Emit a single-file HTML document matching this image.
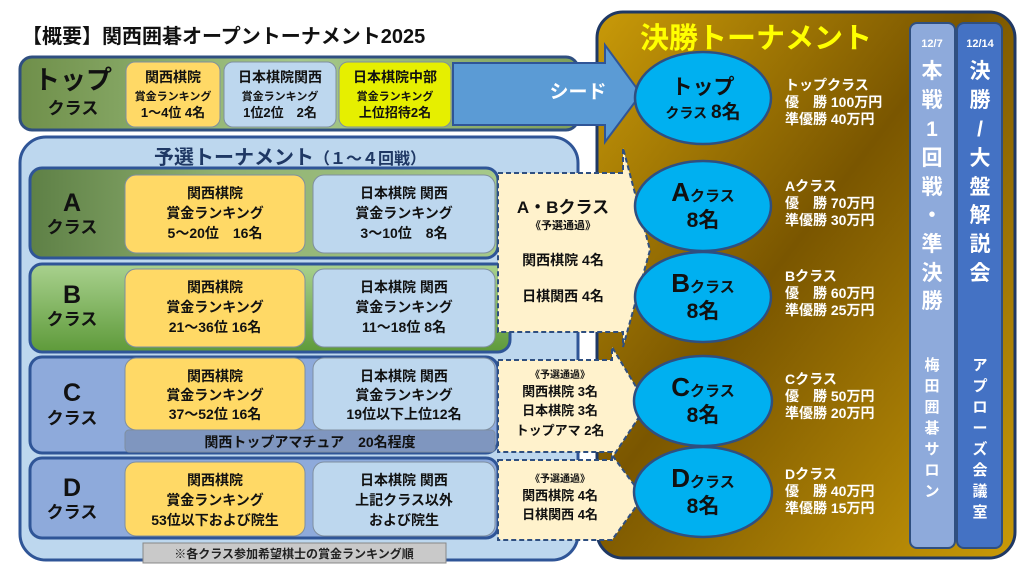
<!DOCTYPE html>
<html><head><meta charset="utf-8"><style>
body{margin:0;background:#fff;}
svg{display:block;font-family:"Liberation Sans","Noto Sans CJK JP",sans-serif;font-weight:bold;}
</style></head><body>
<svg width="1024" height="569" viewBox="0 0 1024 569" xmlns="http://www.w3.org/2000/svg">
<defs>
<linearGradient id="gTop" x1="0" y1="0" x2="1" y2="0"><stop offset="0" stop-color="#6f8f4a"/><stop offset="0.5" stop-color="#a6c98a"/><stop offset="1" stop-color="#7f9f5a"/></linearGradient>
<linearGradient id="gA" x1="0" y1="0" x2="1" y2="0"><stop offset="0" stop-color="#5e8046"/><stop offset="0.4" stop-color="#8fb070"/><stop offset="1" stop-color="#a6c98a"/></linearGradient>
<linearGradient id="gB" x1="0" y1="0" x2="0" y2="1"><stop offset="0" stop-color="#a9d18e"/><stop offset="1" stop-color="#5e9a3a"/></linearGradient>
<linearGradient id="gF" x1="0" y1="0" x2="1" y2="1"><stop offset="0" stop-color="#c99a08"/><stop offset="0.45" stop-color="#7a5600"/><stop offset="1" stop-color="#c99a08"/></linearGradient>
</defs>
<text x="22" y="43" font-size="20" fill="#111">【概要】関西囲碁オープントーナメント2025</text>

<rect x="597" y="12" width="418" height="546" rx="26" fill="url(#gF)" stroke="#1f3864" stroke-width="3"/>
<text x="640" y="48" font-size="29" fill="#ffff00">決勝トーナメント</text>

<rect x="20" y="57" width="558" height="73" rx="12" fill="url(#gTop)" stroke="#2f4f80" stroke-width="3"/>
<text x="73" y="89" font-size="26" text-anchor="middle" fill="#111">トップ</text>
<text x="73" y="114" font-size="17" text-anchor="middle" fill="#111">クラス</text>
<rect x="126" y="62" width="94" height="65" rx="9" fill="#ffd966" stroke="#7f8fa0"/>
<rect x="224" y="62" width="112" height="65" rx="9" fill="#bdd7ee" stroke="#7f8fa0"/>
<rect x="339" y="62" width="112" height="65" rx="9" fill="#e6ef00" stroke="#7f8fa0"/>
<g font-size="13" text-anchor="middle" fill="#111">
<text x="173" y="82" font-size="14">関西棋院</text><text x="173" y="100" font-size="11">賞金ランキング</text><text x="173" y="117">1～4位  4名</text>
<text x="280" y="82" font-size="14">日本棋院関西</text><text x="280" y="100" font-size="11">賞金ランキング</text><text x="280" y="117">1位2位　2名</text>
<text x="395" y="82" font-size="14">日本棋院中部</text><text x="395" y="100" font-size="11">賞金ランキング</text><text x="395" y="117">上位招待2名</text>
</g>
<polygon points="453,63 605,63 605,45 641,94 605,142 605,125 453,125" fill="#5b9bd5" stroke="#2f5597" stroke-width="2"/>
<text x="578" y="98" font-size="19" text-anchor="middle" fill="#fff">シード</text>

<rect x="20" y="137" width="558" height="423" rx="26" fill="#bdd7ee" stroke="#2f5597" stroke-width="3"/>
<text x="290" y="164" font-size="20" text-anchor="middle" fill="#1f3864">予選トーナメント<tspan font-size="16">（１～４回戦）</tspan></text>

<rect x="30" y="168" width="468" height="90" rx="12" fill="url(#gA)" stroke="#2f5597" stroke-width="3"/>
<rect x="30" y="264" width="480" height="88" rx="12" fill="url(#gB)" stroke="#2f5597" stroke-width="3"/>
<rect x="30" y="357" width="468" height="96" rx="12" fill="#8eaadb" stroke="#2f5597" stroke-width="3"/>
<rect x="30" y="458" width="468" height="80" rx="12" fill="#8eaadb" stroke="#2f5597" stroke-width="3"/>
<g text-anchor="middle" fill="#111">
<text x="72" y="211" font-size="25">A</text><text x="72" y="233" font-size="17">クラス</text>
<text x="72" y="303" font-size="25">B</text><text x="72" y="325" font-size="17">クラス</text>
<text x="72" y="401" font-size="25">C</text><text x="72" y="424" font-size="17">クラス</text>
<text x="72" y="496" font-size="25">D</text><text x="72" y="518" font-size="17">クラス</text>
</g>
<g stroke="#7f8fa0" stroke-width="1">
<rect x="125" y="175" width="180" height="78" rx="11" fill="#ffd966"/><rect x="313" y="175" width="182" height="78" rx="11" fill="#bdd7ee"/>
<rect x="125" y="269" width="180" height="78" rx="11" fill="#ffd966"/><rect x="313" y="269" width="182" height="78" rx="11" fill="#bdd7ee"/>
<rect x="125" y="430" width="370" height="22" rx="4" fill="#7f96bf"/>
<rect x="125" y="358" width="180" height="72" rx="11" fill="#ffd966"/><rect x="313" y="358" width="182" height="72" rx="11" fill="#bdd7ee"/>
<rect x="125" y="462" width="180" height="74" rx="11" fill="#ffd966"/><rect x="313" y="462" width="182" height="74" rx="11" fill="#bdd7ee"/>
</g>
<g font-size="14" text-anchor="middle" fill="#111">
<text x="215" y="198">関西棋院</text><text x="215" y="218">賞金ランキング</text><text x="215" y="238">5～20位　16名</text>
<text x="404" y="198">日本棋院 関西</text><text x="404" y="218">賞金ランキング</text><text x="404" y="238">3～10位　8名</text>
<text x="215" y="292">関西棋院</text><text x="215" y="312">賞金ランキング</text><text x="215" y="332">21～36位  16名</text>
<text x="404" y="292">日本棋院 関西</text><text x="404" y="312">賞金ランキング</text><text x="404" y="332">11～18位  8名</text>
<text x="215" y="381">関西棋院</text><text x="215" y="400">賞金ランキング</text><text x="215" y="419">37～52位 16名</text>
<text x="404" y="381">日本棋院 関西</text><text x="404" y="400">賞金ランキング</text><text x="404" y="419">19位以下上位12名</text>
<text x="310" y="447">関西トップアマチュア　20名程度</text>
<text x="215" y="485">関西棋院</text><text x="215" y="505">賞金ランキング</text><text x="215" y="525">53位以下および院生</text>
<text x="404" y="485">日本棋院 関西</text><text x="404" y="505">上記クラス以外</text><text x="404" y="525">および院生</text>
</g>
<rect x="143" y="543" width="303" height="20" fill="#c9c9c9" stroke="#888"/>
<text x="294" y="558" font-size="12" text-anchor="middle" fill="#222">※各クラス参加希望棋士の賞金ランキング順</text>

<g fill="#fff2cc" stroke="#2f4f80" stroke-width="2" stroke-dasharray="5,3">
<polygon points="498,173 623,173 623,148 650,250 623,347 623,332 498,332"/>
<polygon points="498,360 612,360 612,347 647,405 612,458 612,452 498,452"/>
<polygon points="498,460 612,460 612,455 643,497 612,540 498,540"/>
</g>
<g text-anchor="middle" fill="#111">
<text x="563" y="213" font-size="17">A・Bクラス</text><text x="563" y="229" font-size="11">《予選通過》</text>
<text x="563" y="265" font-size="14">関西棋院 4名</text><text x="563" y="301" font-size="14">日棋関西 4名</text>
<text x="560" y="378" font-size="10">《予選通過》</text><text x="560" y="396" font-size="13">関西棋院 3名</text><text x="560" y="415" font-size="13">日本棋院 3名</text><text x="560" y="435" font-size="13">トップアマ 2名</text>
<text x="560" y="482" font-size="10">《予選通過》</text><text x="560" y="500" font-size="13">関西棋院 4名</text><text x="560" y="519" font-size="13">日棋関西 4名</text>
</g>

<g fill="#00b0f0" stroke="#2f4f80" stroke-width="2.5">
<ellipse cx="703" cy="98" rx="68" ry="46"/>
<ellipse cx="703" cy="206" rx="68" ry="45"/>
<ellipse cx="703" cy="297" rx="68" ry="45"/>
<ellipse cx="703" cy="401" rx="69" ry="45"/>
<ellipse cx="703" cy="492" rx="69" ry="45"/>
</g>
<g fill="#111" text-anchor="middle">
<text x="703" y="94" font-size="21">トップ</text><text x="703" y="118" font-size="14">クラス <tspan font-size="19">8名</tspan></text>
<text x="703" y="201" font-size="26">A<tspan font-size="15">クラス</tspan></text><text x="703" y="227" font-size="21">8名</text>
<text x="703" y="292" font-size="26">B<tspan font-size="15">クラス</tspan></text><text x="703" y="318" font-size="21">8名</text>
<text x="703" y="396" font-size="26">C<tspan font-size="15">クラス</tspan></text><text x="703" y="422" font-size="21">8名</text>
<text x="703" y="487" font-size="26">D<tspan font-size="15">クラス</tspan></text><text x="703" y="513" font-size="21">8名</text>
</g>
<g fill="#fff" font-size="14">
<text x="785" y="90">トップクラス</text><text x="785" y="107">優　勝 100万円</text><text x="785" y="124">準優勝  40万円</text>
<text x="785" y="191">Aクラス</text><text x="785" y="208">優　勝  70万円</text><text x="785" y="225">準優勝  30万円</text>
<text x="785" y="281">Bクラス</text><text x="785" y="298">優　勝  60万円</text><text x="785" y="315">準優勝  25万円</text>
<text x="785" y="384">Cクラス</text><text x="785" y="401">優　勝  50万円</text><text x="785" y="418">準優勝  20万円</text>
<text x="785" y="479">Dクラス</text><text x="785" y="496">優　勝  40万円</text><text x="785" y="513">準優勝  15万円</text>
</g>

<rect x="910" y="23" width="45" height="525" rx="7" fill="#8eaadb" stroke="#2f4f80" stroke-width="2"/>
<rect x="957" y="23" width="45" height="525" rx="7" fill="#4472c4" stroke="#2f4f80" stroke-width="2"/>
<g fill="#fff" text-anchor="middle">
<text x="932" y="47" font-size="11">12/7</text><text x="980" y="47" font-size="11">12/14</text>
<g font-size="21">
<text x="932" y="78">本</text><text x="932" y="107">戦</text><text x="932" y="136">1</text><text x="932" y="165">回</text><text x="932" y="194">戦</text><text x="932" y="222">・</text><text x="932" y="251">準</text><text x="932" y="280">決</text><text x="932" y="308">勝</text>
<text x="980" y="78">決</text><text x="980" y="107">勝</text><text x="980" y="136">/</text><text x="980" y="165">大</text><text x="980" y="194">盤</text><text x="980" y="222">解</text><text x="980" y="251">説</text><text x="980" y="280">会</text>
</g>
<g font-size="15">
<text x="932" y="370">梅</text><text x="932" y="391">田</text><text x="932" y="412">囲</text><text x="932" y="433">碁</text><text x="932" y="454">サ</text><text x="932" y="475">ロ</text><text x="932" y="496">ン</text>
<text x="980" y="370">ア</text><text x="980" y="391">プ</text><text x="980" y="412">ロ</text><text x="980" y="433">ー</text><text x="980" y="454">ズ</text><text x="980" y="475">会</text><text x="980" y="496">議</text><text x="980" y="517">室</text>
</g>
</g>
</svg>
</body></html>
